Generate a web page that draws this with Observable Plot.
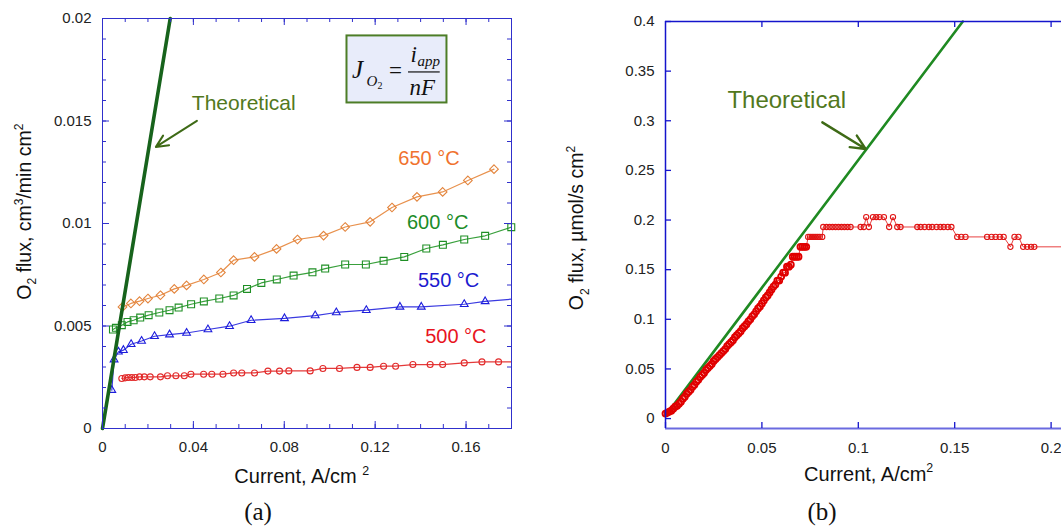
<!DOCTYPE html>
<html><head><meta charset="utf-8">
<script src="https://cdn.jsdelivr.net/npm/d3@7"></script>
<script src="https://cdn.jsdelivr.net/npm/@observablehq/plot@0.6"></script>
<style>
html,body{margin:0;padding:0;overflow:hidden;background:#fff;}
#wrap{position:relative;width:1061px;height:529px;overflow:hidden;}
#pa{position:absolute;left:0;top:0;width:530px;}
#pb{position:absolute;left:570px;top:0;width:587px;}
#pa svg,#pb svg{max-width:none !important;}
.cap{position:absolute;width:100px;text-align:center;font-family:"Liberation Serif","DejaVu Serif",serif;font-size:25px;line-height:25px;top:499px;color:#111;}
</style></head><body>
<div id="wrap"><div id="pa"></div><div id="pb"></div>
<div class="cap" style="left:208px">(a)</div><div class="cap" style="left:772px">(b)</div></div>
<script>
// ---------- Panel (a) data: O2 flux (cm3/min cm2) vs current (A/cm2) ----------
const t650_x = [0.0088,0.0125,0.0163,0.0200,0.0255,0.0316,0.0370,0.0446,0.0521,0.0577,0.0669,0.0766,0.0858,0.0973,0.1068,0.1178,0.1274,0.1384,0.1497,0.1608,0.1723];
const t650_y = [0.00593,0.00610,0.00621,0.00634,0.00650,0.00681,0.00698,0.00727,0.00761,0.00821,0.00837,0.00876,0.00922,0.00941,0.00983,0.01008,0.01078,0.01130,0.01154,0.01210,0.01265];
const t600_x = [0.0046,0.0059,0.0085,0.0110,0.0137,0.0166,0.0203,0.0250,0.0295,0.0335,0.0390,0.0446,0.0514,0.0577,0.0636,0.0699,0.0767,0.0841,0.0924,0.0980,0.1068,0.1159,0.1237,0.1328,0.1425,0.1498,0.1592,0.1684,0.1799];
const t600_y = [0.00483,0.00491,0.00504,0.00520,0.00528,0.00541,0.00553,0.00566,0.00577,0.00590,0.00606,0.00620,0.00634,0.00649,0.00681,0.00710,0.00727,0.00746,0.00762,0.00780,0.00800,0.00800,0.00818,0.00837,0.00878,0.00896,0.00922,0.00940,0.00982];
const t550_x = [0.0041,0.0051,0.0070,0.0092,0.0126,0.0172,0.0229,0.0295,0.0370,0.0464,0.0559,0.0654,0.0801,0.0936,0.1029,0.1161,0.1309,0.1403,0.1592,0.1684,0.1800];
const t550_y = [0.00187,0.00336,0.00374,0.00382,0.00411,0.00427,0.00450,0.00458,0.00466,0.00483,0.00499,0.00528,0.00537,0.00551,0.00566,0.00577,0.00593,0.00593,0.00606,0.00620,0.00631];
const t500_x = [0.0085,0.0100,0.0114,0.0129,0.0144,0.0163,0.0184,0.0210,0.0255,0.0286,0.0323,0.0360,0.0389,0.0445,0.0481,0.0530,0.0577,0.0613,0.0669,0.0728,0.0779,0.0820,0.0914,0.0970,0.1043,0.1120,0.1178,0.1237,0.1290,0.1366,0.1442,0.1497,0.1592,0.1670,0.1743,0.1800];
const t500_y = [0.00244,0.00247,0.00249,0.00249,0.00249,0.00252,0.00252,0.00252,0.00252,0.00257,0.00257,0.00257,0.00265,0.00265,0.00265,0.00265,0.00271,0.00271,0.00271,0.00280,0.00280,0.00281,0.00281,0.00293,0.00293,0.00298,0.00298,0.00304,0.00304,0.00312,0.00312,0.00312,0.00320,0.00325,0.00325,0.00325];
const theoA_x = [0, 0.0298];
const theoA_y = [0, 0.02];
const tempLabels = ["650 °C", "600 °C", "550 °C", "500 °C"];
const xTicksA = [0, 0.04, 0.08, 0.12, 0.16];
const yTicksA = [0, 0.005, 0.01, 0.015, 0.02];

// ---------- Panel (b) data: O2 flux (umol/s cm2) vs current (A/cm2) ----------
const b_x = [0.000,0.001,0.002,0.003,0.004,0.005,0.006,0.007,0.008,0.009,
  0.010,0.011,0.012,0.013,0.014,0.015,0.016,0.017,0.018,0.019,
  0.020,0.021,0.022,0.023,0.024,0.025,0.026,0.027,0.028,0.029,
  0.030,0.031,0.032,0.033,0.034,0.035,0.036,0.037,0.038,0.039,
  0.040,0.041,0.042,0.043,0.044,0.045,0.046,0.047,0.048,0.049,
  0.050,0.051,0.052,0.053,0.054,0.055,0.056,0.057,0.058,0.059,
  0.060,0.061,0.062,0.063,0.064,0.065,0.066,0.067,0.068,0.069,
  0.070,0.071,0.072,0.073,
  0.074,0.075,0.076,0.077,0.078,0.079,0.080,0.0813,
  0.0818,0.0835,0.0851,0.0866,0.0882,0.0897,0.0913,0.0928,0.0944,0.0960,
  0.1012,0.1029,0.1041,0.1055,0.1076,0.1093,0.1110,0.1133,0.1160,0.1180,0.1202,0.1219,
  0.1306,0.1323,0.1344,0.1366,0.1383,0.1406,0.1426,0.1443,0.1464,0.1483,
  0.1513,0.1534,0.1556,
  0.1668,0.1691,0.1712,0.1734,0.1754,0.1789,0.1810,0.1831,
  0.1855,0.1876,0.1896,0.1913,0.2100];
const b_y = [0.005,0.006,0.007,0.008,0.010,0.012,0.013,0.015,0.017,0.020,
  0.022,0.025,0.027,0.029,0.032,0.034,0.037,0.039,0.042,0.044,
  0.046,0.049,0.051,0.053,0.055,0.058,0.060,0.062,0.064,0.066,
  0.068,0.070,0.073,0.075,0.077,0.079,0.082,0.084,0.086,0.088,
  0.091,0.093,0.095,0.098,0.100,0.103,0.105,0.108,0.111,0.113,
  0.116,0.119,0.122,0.124,0.127,0.130,0.133,0.135,0.139,0.139,
  0.143,0.147,0.147,0.153,0.153,0.155,0.163,0.163,0.163,0.163,
  0.173,0.173,0.173,0.173,
  0.183,0.183,0.183,0.183,0.183,0.183,0.183,0.183,
  0.193,0.193,0.193,0.193,0.193,0.193,0.193,0.193,0.193,0.193,
  0.193,0.193,0.203,0.193,0.203,0.203,0.203,0.203,0.193,0.203,0.193,0.193,
  0.193,0.193,0.193,0.193,0.193,0.193,0.193,0.193,0.193,0.193,
  0.183,0.183,0.183,
  0.183,0.183,0.183,0.183,0.183,0.173,0.183,0.183,
  0.173,0.173,0.173,0.173,0.173];
const theoB_x = [0, 0.1542];
const theoB_y = [0.003, 0.4];
const xTicksB = [0, 0.05, 0.1, 0.15, 0.2];
const yTicksB = [0, 0.05, 0.1, 0.15, 0.2, 0.25, 0.3, 0.35, 0.4];

// ---------- helpers ----------
const zip = (xs, ys) => xs.map((x, i) => ({x, y: ys[i]}));
const s650 = zip(t650_x, t650_y), s600 = zip(t600_x, t600_y), s550 = zip(t550_x, t550_y), s500 = zip(t500_x, t500_y);
const theoA = zip(theoA_x, theoA_y), theoB = zip(theoB_x, theoB_y), red = zip(b_x, b_y);
const SANS = "Liberation Sans, Arial, sans-serif";
const SERIF = "Liberation Serif, Times New Roman, serif";
const style = {fontFamily: SANS, fontSize: "15px", color: "#222", background: "transparent", overflow: "visible", maxWidth: "none"};

function rich(svg, x, y, parts, {size = 20, rotate = 0, fill = "#111"} = {}) {
  const t = d3.select(svg).append("text")
    .attr("transform", `translate(${x},${y}) rotate(${rotate})`)
    .attr("text-anchor", "middle").attr("font-family", SANS)
    .attr("font-size", size).attr("fill", fill).style("white-space", "pre");
  let shift = 0;
  for (const [s, k] of parts) {
    const target = k === "sub" ? 0.28 * size : k === "sup" ? -0.42 * size : 0;
    t.append("tspan").attr("dy", target - shift).attr("font-size", k ? size * 0.62 : size).text(s);
    shift = target;
  }
}

// ---------- Panel (a) ----------
const xMinorA = d3.range(0, 0.1801, 0.01), yMinorA = d3.range(0, 0.02001, 0.001);
const frameA = "#3030cc";
const eqCx = 0.1296, eqCy = 0.017515;
const eqText = (text, dx, dy, fontSize, extra = {}) =>
  Plot.text([text], {x: eqCx, y: eqCy, text: d => d, dx, dy, fontSize, fontFamily: SERIF, fontStyle: "italic",
    textAnchor: "start", lineAnchor: "bottom", fill: "#111", ...extra});

const plotA = Plot.plot({
  width: 530, height: 490, marginLeft: 102, marginRight: 19, marginTop: 18, marginBottom: 62,
  x: {domain: [0, 0.18]}, y: {domain: [0, 0.02]}, style,
  marks: [
    Plot.rect([0], {x1: 0.1076, x2: 0.1516, y1: 0.01588, y2: 0.01915, fill: "#e8ecfa", stroke: "#4d7d27", strokeWidth: 2}),
    eqText("J", -45, 8.5, 25),
    eqText("O", -30.5, 16.8, 15),
    eqText("2", -19.5, 19.8, 10, {fontStyle: "normal"}),
    eqText("=", -1.4, 8.2, 23, {fontStyle: "normal", textAnchor: "middle"}),
    eqText("i", 13.5, -7.5, 23),
    eqText("app", 20.5, -3.5, 15),
    eqText("nF", 12.6, 25.8, 23),
    Plot.ruleY([eqCy], {x1: 0.13468, x2: 0.14863, dy: 2.5, stroke: "#111", strokeWidth: 1.2}),

    Plot.line(s650, {x: "x", y: "y", stroke: "#e8914d", strokeWidth: 1.2}),
    Plot.dot(s650, {x: "x", y: "y", symbol: "diamond2", r: 3.9, stroke: "#e3843c", fill: "none", strokeWidth: 1.1}),
    Plot.line(s600, {x: "x", y: "y", stroke: "#39a03c", strokeWidth: 1.2}),
    Plot.dot(s600, {x: "x", y: "y", symbol: "square2", r: 4.4, stroke: "#1f8f25", fill: "none", strokeWidth: 1.1}),
    Plot.line(s550, {x: "x", y: "y", stroke: "#3a3ae0", strokeWidth: 1.2}),
    Plot.dot(s550.filter(d => d.x < 0.18), {x: "x", y: "y", symbol: "triangle2", r: 3.7, stroke: "#1c1cdc", fill: "none", strokeWidth: 1.1}),
    Plot.line(s500, {x: "x", y: "y", stroke: "#e43a3a", strokeWidth: 1.2}),
    Plot.dot(s500.filter(d => d.x < 0.18), {x: "x", y: "y", r: 3, stroke: "#e22a2a", fill: "none", strokeWidth: 1.1}),

    Plot.line(theoA, {x: "x", y: "y", stroke: "#17631c", strokeWidth: 3.6}),

    Plot.text([tempLabels[0]], {x: 0.1302, y: 0.01283, text: d => d, fill: "#f0722e", fontSize: 20, textAnchor: "start", lineAnchor: "bottom"}),
    Plot.text([tempLabels[1]], {x: 0.1340, y: 0.00972, text: d => d, fill: "#1c8c28", fontSize: 20, textAnchor: "start", lineAnchor: "bottom"}),
    Plot.text([tempLabels[2]], {x: 0.1388, y: 0.00689, text: d => d, fill: "#1b1bcf", fontSize: 20, textAnchor: "start", lineAnchor: "bottom"}),
    Plot.text([tempLabels[3]], {x: 0.1420, y: 0.00416, text: d => d, fill: "#e8141e", fontSize: 20, textAnchor: "start", lineAnchor: "bottom"}),

    Plot.text(["Theoretical"], {x: 0.0393, y: 0.01553, text: d => d, fill: "#52781d", fontSize: 21, textAnchor: "start", lineAnchor: "bottom"}),
    Plot.arrow([0], {x1: 0.04155, y1: 0.015005, x2: 0.0235, y2: 0.013737, stroke: "#3e6a16", strokeWidth: 2, headLength: 10, headAngle: 50}),

    Plot.frame({stroke: frameA}),
    Plot.ruleX(xMinorA, {x: d => d, y1: () => 0, y2: () => 0, insetBottom: 4, stroke: frameA}),
    Plot.ruleX(xMinorA, {x: d => d, y1: () => 0.02, y2: () => 0.02, insetTop: 4, stroke: frameA}),
    Plot.ruleX(xTicksA, {x: d => d, y1: () => 0, y2: () => 0, insetBottom: 7, stroke: frameA}),
    Plot.ruleX(xTicksA, {x: d => d, y1: () => 0.02, y2: () => 0.02, insetTop: 7, stroke: frameA}),
    Plot.ruleY(yMinorA, {y: d => d, x1: () => 0, x2: () => 0, insetLeft: 4, stroke: frameA}),
    Plot.ruleY(yMinorA, {y: d => d, x1: () => 0.18, x2: () => 0.18, insetRight: 4, stroke: frameA}),
    Plot.ruleY(yTicksA, {y: d => d, x1: () => 0, x2: () => 0, insetLeft: 7, stroke: frameA}),
    Plot.ruleY(yTicksA, {y: d => d, x1: () => 0.18, x2: () => 0.18, insetRight: 7, stroke: frameA}),
    Plot.axisX(xTicksA, {tickSize: 0, tickPadding: 13, tickFormat: d => String(d), label: null, color: "#222"}),
    Plot.axisY(yTicksA, {tickSize: 0, tickPadding: 11, tickFormat: d => String(d), label: null, color: "#222"})
  ]
});
document.getElementById("pa").appendChild(plotA);
rich(plotA, 30.7, 211.7, [["O"], ["2", "sub"], [" flux, cm"], ["3", "sup"], ["/min cm"], ["2", "sup"]], {size: 19.5, rotate: -90});
rich(plotA, 301.7, 483.3, [["Current, A/cm "], ["2", "sup"]], {size: 20});

// ---------- Panel (b) ----------
const frameB = "#1414cc";
const plotB = Plot.plot({
  width: 587, height: 490, marginLeft: 95, marginRight: 10, marginTop: 21, marginBottom: 62,
  x: {domain: [0, 0.25]}, y: {domain: [-0.01, 0.4]}, style,
  marks: [
    Plot.line(theoB, {x: "x", y: "y", stroke: "#1f8a22", strokeWidth: 2.6}),
    Plot.line(red, {x: "x", y: "y", stroke: "#e84040", strokeWidth: 1}),
    Plot.dot(red.filter(d => d.x < 0.074), {x: "x", y: "y", r: 3, stroke: "#e00000", fill: "none", strokeWidth: 1.8}),
    Plot.dot(red.filter(d => d.x >= 0.074 && d.x < 0.2), {x: "x", y: "y", r: 2.6, stroke: "#e01414", fill: "none", strokeWidth: 1.1}),

    Plot.text(["Theoretical"], {x: 0.0321, y: 0.3129, text: d => d, fill: "#52781d", fontSize: 24, textAnchor: "start", lineAnchor: "bottom"}),
    Plot.arrow([0], {x1: 0.08135, y1: 0.2984, x2: 0.1038, y2: 0.2716, stroke: "#3e6a16", strokeWidth: 2.4, headLength: 10, headAngle: 50}),

    Plot.ruleX([0], {stroke: frameB, strokeWidth: 1.5}),
    Plot.ruleY([0.4], {stroke: frameB, strokeWidth: 1.5}),
    Plot.ruleY([-0.01], {stroke: "#6a6ae0", strokeWidth: 2}),
    Plot.ruleX(xTicksB, {x: d => d, y1: () => -0.01, y2: () => -0.01, insetBottom: 6, stroke: frameB, strokeWidth: 1.3}),
    Plot.ruleX(xTicksB.filter(d => d > 0), {x: d => d, y1: () => 0.4, y2: () => 0.4, insetTop: 6, stroke: frameB, strokeWidth: 1.3}),
    Plot.ruleY(yTicksB, {y: d => d, x1: () => 0, x2: () => 0, insetLeft: 6, stroke: frameB, strokeWidth: 1.3}),
    Plot.axisX(xTicksB, {tickSize: 0, tickPadding: 14, tickFormat: d => String(d), label: null, color: "#222"}),
    Plot.axisY(yTicksB, {tickSize: 0, tickPadding: 11, tickFormat: d => String(d), label: null, color: "#222"})
  ]
});
document.getElementById("pb").appendChild(plotB);
rich(plotB, 13.3, 228, [["O"], ["2", "sub"], [" flux, \u00b5mol/s cm"], ["2", "sup"]], {size: 19.5, rotate: -90});
rich(plotB, 298.7, 480.7, [["Current, A/cm"], ["2", "sup"]], {size: 20});
</script>
</body></html>
